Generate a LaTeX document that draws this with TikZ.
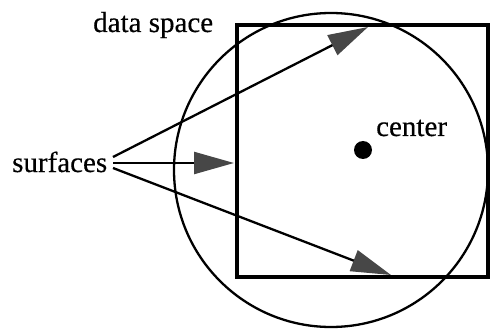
\documentclass[tikz,border=0pt]{standalone}
\usepackage{fontspec}
\setmainfont{Liberation Serif}[FakeBold=0.4]
\usetikzlibrary{arrows.meta}
\tikzset{
  lbl/.style={font=\fontsize{29}{32}\selectfont, inner sep=0pt},
  arr/.style={line width=2.3pt, -{Triangle[length=40pt,width=22pt,color=black!72]}},
}
\begin{document}
\begin{tikzpicture}[x=1pt,y=-1pt]
\useasboundingbox (0,0) rectangle (491,329);
\node[draw, line width=4pt, minimum width=251pt, minimum height=252pt, inner sep=0pt] (sq) at (362.5,151) {};
\node[draw, circle, line width=2.3pt, minimum size=314pt, inner sep=0pt] (circ) at (331,170) {};
\node[circle, fill=black, minimum size=18pt, inner sep=0pt] (ctr) at (363,150) {};
\node[lbl, anchor=base west] (clab) at (376,136) {center};
\node[lbl, anchor=base west] (ds) at (93,32) {data space};
\node[lbl, anchor=base west] (surf) at (12,172) {surfaces};
\coordinate (s1) at (113,157);
\coordinate (s2) at (113,163);
\coordinate (s3) at (113,168);
\coordinate (t1) at (368,27);
\coordinate (t2) at (234,163);
\coordinate (t3) at (391,275);
\draw[arr] (s1) -- (t1);
\draw[arr] (s2) -- (t2);
\draw[arr] (s3) -- (t3);
\end{tikzpicture}
\end{document}
